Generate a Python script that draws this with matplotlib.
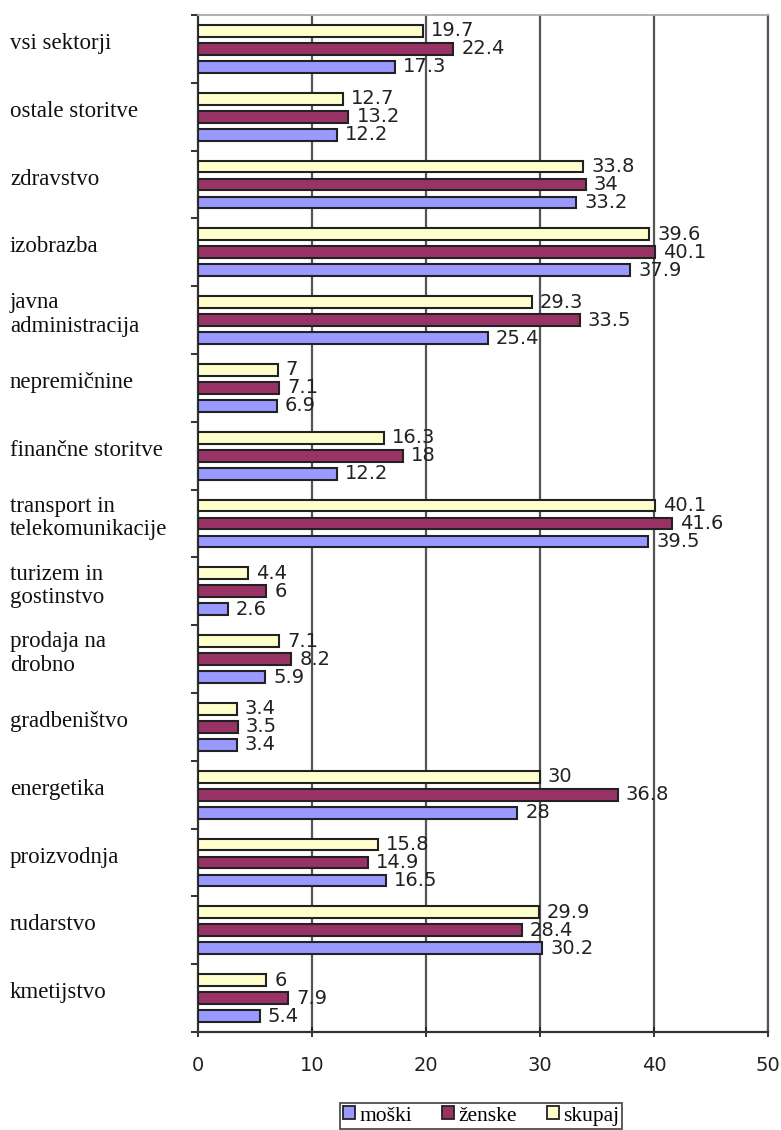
import matplotlib
matplotlib.use("Agg")
import matplotlib.pyplot as plt
from matplotlib.patches import Patch
import numpy as np

categories = ["vsi sektorji", "ostale storitve", "zdravstvo", "izobrazba",
              "javna\nadministracija", "nepremičnine", "finančne storitve",
              "transport in\ntelekomunikacije", "turizem in\ngostinstvo",
              "prodaja na\ndrobno", "gradbeništvo", "energetika",
              "proizvodnja", "rudarstvo", "kmetijstvo"]
moski = [17.3, 12.2, 33.2, 37.9, 25.4, 6.9, 12.2, 39.5, 2.6, 5.9, 3.4, 28, 16.5, 30.2, 5.4]
zenske = [22.4, 13.2, 34, 40.1, 33.5, 7.1, 18, 41.6, 6, 8.2, 3.5, 36.8, 14.9, 28.4, 7.9]
skupaj = [19.7, 12.7, 33.8, 39.6, 29.3, 7, 16.3, 40.1, 4.4, 7.1, 3.4, 30, 15.8, 29.9, 6]
series_names = ["moški", "ženske", "skupaj"]
xticks = [0, 10, 20, 30, 40, 50]

colors = ["#9999FF", "#993366", "#FFFFCC"]

W, H = 781, 1130
fig = plt.figure(figsize=(W / 100, H / 100), dpi=100)
ax = fig.add_axes([198 / W, 1 - 1032 / H, (768 - 198) / W, (1032 - 15) / H])

n = len(categories)
ypos = np.arange(n)[::-1].astype(float)
offsets = [-0.265, 0.0, 0.265]
bh = 0.175

ax.set_xlim(0, 50)
ax.set_ylim(-0.5, n - 0.5)

for x in xticks[1:]:
    ax.axvline(x, color="#555555", lw=1.6, zorder=0)

for vals, off, col in zip([moski, zenske, skupaj], offsets, colors):
    ax.barh(ypos + off, vals, height=bh, color=col, edgecolor="#222222",
            linewidth=1.5, zorder=3)
    for y, v in zip(ypos + off, vals):
        ax.text(v + 0.7, y, f"{v:g}", va="center", ha="left",
                fontsize=14, color="#222222", family="DejaVu Sans", zorder=4)

ax.set_xticks(xticks)
ax.set_xticklabels([str(t) for t in xticks], fontsize=14, family="DejaVu Sans",
                   color="#222222")
ax.tick_params(axis="x", direction="inout", length=7, width=1.3, pad=14, colors="#222222")
ax.set_yticks(np.arange(-0.5, n, 1.0))
ax.set_yticklabels([])
ax.tick_params(axis="y", direction="out", length=5, width=1.3, colors="#222222")

for s in ["left", "bottom"]:
    ax.spines[s].set_color("#333333")
    ax.spines[s].set_linewidth(1.6)
ax.spines["top"].set_color("#aaaaaa")
ax.spines["top"].set_linewidth(1.3)
ax.spines["right"].set_color("#555555")
ax.spines["right"].set_linewidth(1.6)

# category labels, left aligned
for y, lab in zip(ypos, categories):
    fy = ax.transData.transform((0, y + 0.08))[1]
    fig.text(10 / W, fy / fig.dpi / fig.get_figheight(), lab, ha="left", va="center",
             fontsize=16.5, family="Liberation Serif", linespacing=1.15,
             color="#111111", transform=fig.transFigure)

handles = [Patch(facecolor=c, edgecolor="#222222", linewidth=1.3) for c in colors]
leg = fig.legend(handles, series_names, loc="center", bbox_to_anchor=(481 / W, 1 - 1116 / H),
                 ncol=3, frameon=True, fancybox=False, edgecolor="#222222",
                 prop={"family": "Liberation Serif", "size": 15.5},
                 handlelength=0.55, handleheight=0.55, handletextpad=0.2,
                 columnspacing=1.4, borderpad=0.15, borderaxespad=0)
leg.get_frame().set_linewidth(1.3)

fig.savefig("out.png", dpi=100)
